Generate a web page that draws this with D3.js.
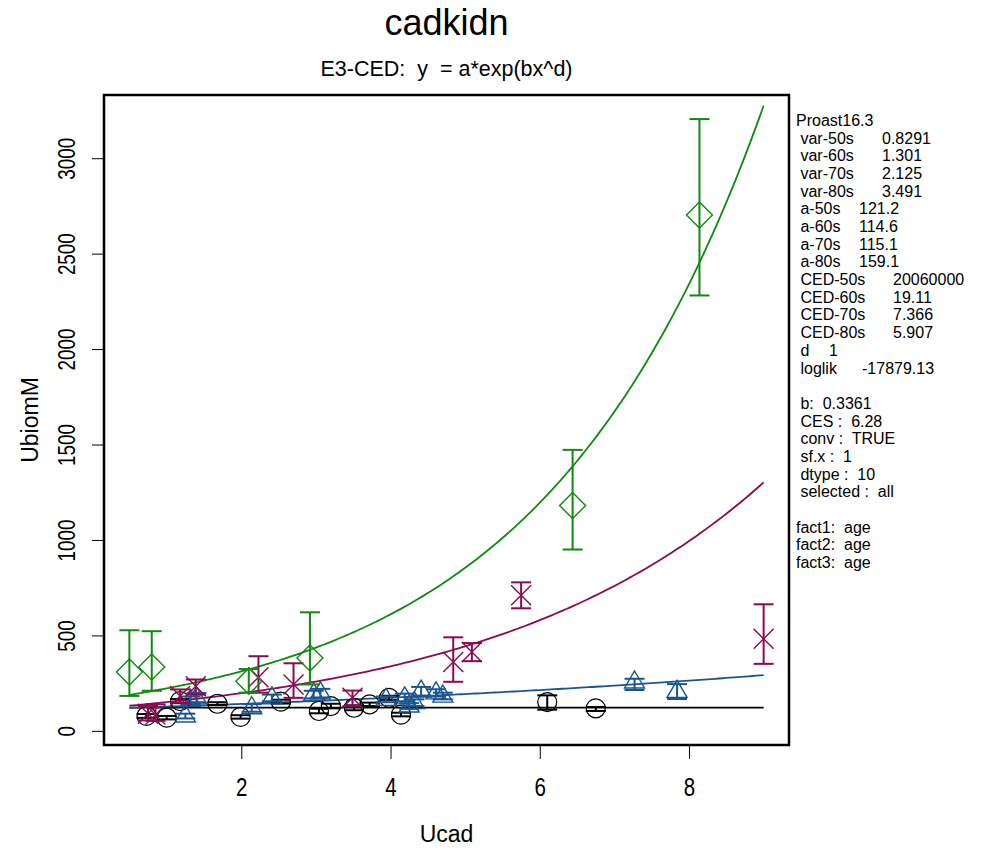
<!DOCTYPE html>
<html>
<head>
<meta charset="utf-8">
<script src="https://cdn.jsdelivr.net/npm/d3@7.9.0/dist/d3.min.js"></script>
<style>
  body { margin: 0; background: #fff; }
  text { font-family: "Liberation Sans", Arial, sans-serif; }
</style>
</head>
<body>
<svg id="chart" width="982" height="850"></svg>
<script>
// observed means with error bar limits, one block per age group
const x50 = [0.73, 1.0, 1.18, 1.68, 1.99, 2.53, 3.04, 3.2, 3.51, 3.72, 3.98, 4.14, 6.10, 6.75];
const y50 = [78, 69, 156, 142, 73, 153, 104, 130, 121, 139, 173, 85, 151, 118];
const lo50 = [68, 60, 145, 135, 64, 143, 92, 118, 108, 130, 162, 76, 111, 104];
const hi50 = [88, 78, 167, 150, 82, 163, 116, 142, 134, 148, 184, 95, 186, 125];

const x60 = [1.25, 1.32, 1.40, 2.14, 2.41, 2.97, 3.06, 3.94, 4.19, 4.25, 4.32, 4.41, 4.61, 4.70, 7.27, 7.84];
const y60 = [78, 160, 173, 121, 173, 191, 199, 165, 173, 130, 148, 208, 199, 182, 256, 207];
const lo60 = [65, 140, 150, 100, 155, 170, 175, 150, 155, 115, 130, 185, 180, 165, 214, 167];
const hi60 = [90, 180, 198, 140, 190, 210, 220, 180, 195, 145, 165, 230, 218, 200, 273, 245];

const x70 = [0.75, 0.85, 1.18, 1.39, 2.23, 2.70, 3.49, 4.84, 5.09, 5.75, 9.0];
const y70 = [90, 85, 182, 234, 281, 243, 173, 361, 413, 711, 482];
const lo70 = [55, 52, 147, 190, 200, 173, 130, 257, 365, 642, 351];
const hi70 = [130, 139, 217, 269, 391, 354, 211, 490, 460, 778, 663];

const x80 = [0.5, 0.8, 2.10, 2.92, 6.44, 8.14];
const y80 = [308, 334, 260, 382, 1180, 2703];
const lo80 = [183, 210, 200, 243, 950, 2281];
const hi80 = [527, 522, 324, 621, 1472, 3205];

// fitted parameters (E3-CED)
const groups = ["50s", "60s", "70s", "80s"];
const aPar = [121.2, 114.6, 115.1, 159.1];
const cedPar = [20060000, 19.11, 7.366, 5.907];
const ces = 6.28;
const colors = ["#000000", "#1a5590", "#8b0a50", "#0f8a0f"];

const xTicks = [2, 4, 6, 8];
const yTicks = [0, 500, 1000, 1500, 2000, 2500, 3000];

// info panel: label, value, x of value ("" value = single text)
const infoLabels = ["Proast16.3", " var-50s", " var-60s", " var-70s", " var-80s",
  " a-50s", " a-60s", " a-70s", " a-80s",
  " CED-50s", " CED-60s", " CED-70s", " CED-80s", " d", " loglik", "",
  " b:  0.3361", " CES :  6.28", " conv :  TRUE", " sf.x :  1", " dtype :  10", " selected :  all", "",
  "fact1:  age", "fact2:  age", "fact3:  age"];
const infoValues = ["", "0.8291", "1.301", "2.125", "3.491",
  "121.2", "114.6", "115.1", "159.1",
  "20060000", "19.11", "7.366", "5.907", "1", "-17879.13", "",
  "", "", "", "", "", "", "", "", "", ""];
const infoValueX = [0, 882, 882, 882, 882, 859, 859, 859, 859, 893, 893, 893, 893, 829, 862, 0,
  0, 0, 0, 0, 0, 0, 0, 0, 0, 0];

const data = [
  { xs: x50, ys: y50, lo: lo50, hi: hi50 },
  { xs: x60, ys: y60, lo: lo60, hi: hi60 },
  { xs: x70, ys: y70, lo: lo70, hi: hi70 },
  { xs: x80, ys: y80, lo: lo80, hi: hi80 }
];

const svg = d3.select("#chart");
const box = { left: 104, right: 789, top: 95, bottom: 745 };

// R-style 4% padding
function pad(ext) {
  const r = ext[1] - ext[0];
  return [ext[0] - 0.04 * r, ext[1] + 0.04 * r];
}
const allX = [].concat(x50, x60, x70, x80);
const allY = [].concat(lo50, lo60, lo70, lo80, hi50, hi60, hi70, hi80);

const x = d3.scaleLinear().domain(pad(d3.extent(allX))).range([box.left, box.right]);
const y = d3.scaleLinear().domain(pad(d3.extent(allY))).range([box.bottom, box.top]);

svg.append("defs").append("clipPath").attr("id", "clip")
  .append("rect")
  .attr("x", box.left).attr("y", box.top)
  .attr("width", box.right - box.left).attr("height", box.bottom - box.top);

// titles
svg.append("text").attr("x", (box.left + box.right) / 2).attr("y", 35)
  .attr("text-anchor", "middle").attr("font-size", 36).text("cadkidn");
svg.append("text").attr("x", (box.left + box.right) / 2).attr("y", 76)
  .attr("text-anchor", "middle").attr("font-size", 21.5).style("white-space", "pre")
  .text("E3-CED:  y  = a*exp(bx^d)");

// axes
const xAxis = svg.append("g").attr("transform", `translate(0,${box.bottom})`)
  .call(d3.axisBottom(x).tickValues(xTicks).tickSize(14).tickFormat(d3.format("d")));
xAxis.select(".domain").remove();
xAxis.selectAll("text").attr("font-size", 25).attr("y", 0).attr("dy", 0)
  .attr("transform", "translate(0,51) scale(0.82,1)")
  .style("font-family", "Liberation Sans, Arial, sans-serif");

const yAxis = svg.append("g").attr("transform", `translate(${box.left},0)`)
  .call(d3.axisLeft(y).tickValues(yTicks).tickSize(12).tickFormat(d3.format("d")));
yAxis.select(".domain").remove();
yAxis.selectAll("text")
  .attr("font-size", 23)
  .attr("text-anchor", "middle")
  .attr("x", 0).attr("y", 0).attr("dy", 0)
  .attr("dominant-baseline", "middle")
  .attr("transform", "translate(-35,0) rotate(-90) scale(0.82,1)")
  .style("font-family", "Liberation Sans, Arial, sans-serif");

svg.append("text").attr("x", (box.left + box.right) / 2).attr("y", 842)
  .attr("text-anchor", "middle").attr("font-size", 23).text("Ucad");
svg.append("text")
  .attr("transform", `translate(38,${(box.top + box.bottom) / 2}) rotate(-90)`)
  .attr("text-anchor", "middle").attr("font-size", 23).text("UbiomM");

// fitted curves
const plot = svg.append("g").attr("clip-path", "url(#clip)");
const grid = d3.range(0.5, 9.0001, 0.05);
groups.forEach((g, i) => {
  const b = Math.log(1 + ces) / cedPar[i];
  const line = d3.line()
    .x(d => x(d))
    .y(d => y(aPar[i] * Math.exp(b * d)));
  plot.append("path").datum(grid)
    .attr("d", line)
    .attr("fill", "none")
    .attr("stroke", colors[i])
    .attr("stroke-width", 1.8);
});

// markers
function marker(sel, i) {
  const c = colors[i];
  if (i === 0) {
    sel.append("circle").attr("r", 9.5).attr("fill", "none").attr("stroke", c).attr("stroke-width", 1.2);
  } else if (i === 1) {
    sel.append("path").attr("d", "M0,-11 L10,6 L-10,6 Z").attr("fill", "none").attr("stroke", c).attr("stroke-width", 1.4);
  } else if (i === 2) {
    sel.append("path").attr("d", "M-10,-10 L10,10 M-10,10 L10,-10").attr("fill", "none").attr("stroke", c).attr("stroke-width", 1.4);
  } else {
    sel.append("path").attr("d", "M0,-13 L13,0 L0,13 L-13,0 Z").attr("fill", "none").attr("stroke", c).attr("stroke-width", 1.4);
  }
}

data.forEach((grp, i) => {
  const g = plot.append("g");
  grp.xs.forEach((xv, k) => {
    const px = x(xv);
    const eb = g.append("g").attr("stroke", colors[i]).attr("stroke-width", 2);
    eb.append("line").attr("x1", px).attr("x2", px).attr("y1", y(grp.lo[k])).attr("y2", y(grp.hi[k]));
    eb.append("line").attr("x1", px - 10).attr("x2", px + 10).attr("y1", y(grp.lo[k])).attr("y2", y(grp.lo[k]));
    eb.append("line").attr("x1", px - 10).attr("x2", px + 10).attr("y1", y(grp.hi[k])).attr("y2", y(grp.hi[k]));
    const m = g.append("g").attr("transform", `translate(${px},${y(grp.ys[k])})`);
    marker(m, i);
  });
});

// plot frame
svg.append("rect")
  .attr("x", box.left).attr("y", box.top)
  .attr("width", box.right - box.left).attr("height", box.bottom - box.top)
  .attr("fill", "none").attr("stroke", "#000").attr("stroke-width", 2.5);

// info panel
const info = svg.append("g").attr("font-size", 16);
infoLabels.forEach((t, k) => {
  const yy = 126 + k * 17.68;
  info.append("text").attr("x", 796).attr("y", yy).style("white-space", "pre").text(t);
  if (infoValues[k]) {
    info.append("text").attr("x", infoValueX[k]).attr("y", yy).text(infoValues[k]);
  }
});
</script>
</body>
</html>
